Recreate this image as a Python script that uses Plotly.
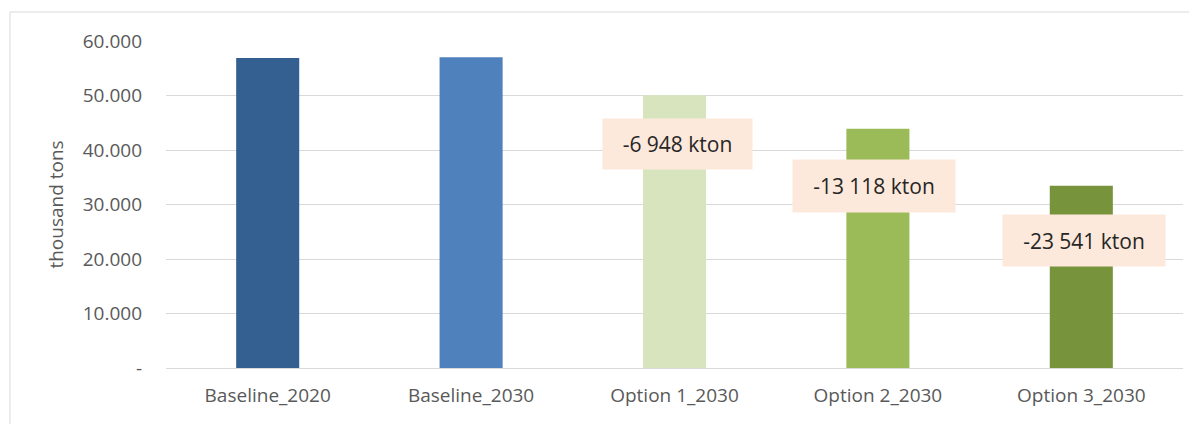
import plotly.graph_objects as go

categories = ["Baseline_2020", "Baseline_2030", "Option 1_2030", "Option 2_2030", "Option 3_2030"]
values = [56900, 57000, 50050, 43880, 33460]
colors = ["#335F91", "#4F81BD", "#D7E4BD", "#9BBB59", "#77933C"]
reduction_labels = ["-6 948 kton", "-13 118 kton", "-23 541 kton"]
label_categories = ["Option 1_2030", "Option 2_2030", "Option 3_2030"]
label_y = [41100, 33400, 23400]
label_xshift = [3, -4, 3]
label_w = [147, 160, 160]
label_h = [48, 50, 49]
tick_vals = [0, 10000, 20000, 30000, 40000, 50000, 60000]
tick_text = ["-", "10.000", "20.000", "30.000", "40.000", "50.000", "60.000"]

FONT = "Open Sans, Lato, sans-serif"

fig = go.Figure()
fig.add_trace(go.Bar(
    x=categories, y=values, marker=dict(color=colors, line=dict(width=0)),
    width=0.31, showlegend=False, hoverinfo="x+y",
))

for cat, txt, y, xs, w, h in zip(label_categories, reduction_labels, label_y, label_xshift, label_w, label_h):
    fig.add_annotation(
        x=cat, y=y, text=txt, showarrow=False, xshift=xs,
        bgcolor="#FDE9DB", width=w, height=h,
        font=dict(family=FONT, size=21, color="#262626"),
    )

# outer chart border (screen px converted to paper coords; plot area 166..1183 x 41..368)
PW, PH = 1017, 327
fig.add_shape(type="rect", xref="paper", yref="paper",
              x0=(10 - 166) / PW, x1=(1220 - 166) / PW,
              y0=(368 - 440) / PH, y1=(368 - 12) / PH,
              line=dict(color="#D9D9D9", width=1), fillcolor="rgba(0,0,0,0)", layer="below")

# page body has an 8px margin, so the figure is shrunk and margins compensate
fig.update_layout(
    width=1189, height=416,
    margin=dict(l=158, r=14, t=33, b=56, autoexpand=False),
    plot_bgcolor="white", paper_bgcolor="white",
    font=dict(family=FONT, color="#595959", size=19),
)
fig.update_xaxes(showgrid=False, showline=True, linecolor="#D9D9D9", linewidth=1,
                 automargin=False,
                 tickfont=dict(family=FONT, size=19, color="#595959"), ticks="", ticklabelstandoff=10)
fig.update_yaxes(range=[0, 60000], tickvals=tick_vals, ticktext=tick_text,
                 automargin=False,
                 showgrid=True, gridcolor="#D9D9D9", gridwidth=1, zeroline=False,
                 tickfont=dict(family=FONT, size=19, color="#595959"), ticks="", ticklabelstandoff=23,
                 title=dict(text="thousand tons", font=dict(family=FONT, size=19, color="#595959"), standoff=14))

fig.write_html("out.html")
